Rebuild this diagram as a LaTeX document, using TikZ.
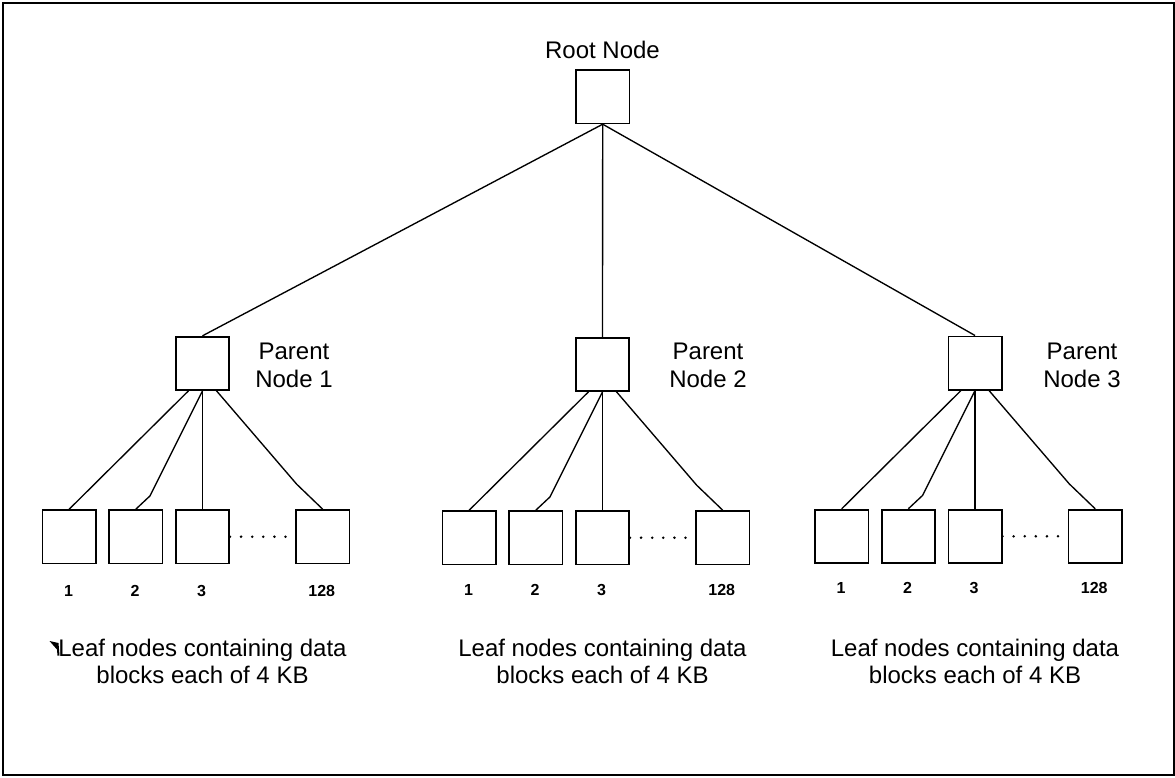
\documentclass[tikz,border=0pt]{standalone}
\usepackage{fontspec}
\setmainfont{Liberation Sans}
\usetikzlibrary{calc}
\begin{document}
\begin{tikzpicture}[x=1pt,y=-1pt,
  box/.style={draw,line width=1.7pt,minimum size=53.3pt,inner sep=0pt,fill=white},
  edge/.style={line width=1.35pt},
  lbl/.style={font=\fontsize{24}{27.5}\selectfont,align=center,inner sep=0pt},
  num/.style={font=\fontsize{16}{18}\selectfont\bfseries,inner sep=0pt,anchor=base},
  dotline/.style={line width=2.8pt,dash pattern=on 0pt off 11.1pt,line cap=round}]
\useasboundingbox (0,0) rectangle (1175,777);
\draw[line width=2pt] (2.5,2.5) rectangle (1173.5,774.5);
\node[box] (root) at (602.7,96.7) {};
\node[lbl,anchor=base] (rootlbl) at (602.5,58) {Root Node};
\foreach \i/\px/\py/\ly/\nb/\lx in {1/202.5/363.3/536.7/596/294, 2/602.5/364.3/537.7/595/708, 3/975/363/536.3/593.5/1082}{
  \node[box] (p\i) at (\px,\py) {};
  \node[lbl] (pl\i) at (\lx,365.6) {Parent\\Node \i};
  \node[box] (l\i a) at (\px-133.3,\ly) {};
  \node[box] (l\i b) at (\px-66.7,\ly) {};
  \node[box] (l\i c) at (\px,\ly) {};
  \node[box] (l\i d) at (\px+120.2,\ly) {};
  \node[num] (n\i a) at (\px-134,\nb) {1};
  \node[num] (n\i b) at (\px-67.5,\nb) {2};
  \node[num] (n\i c) at (\px-1,\nb) {3};
  \node[num] (n\i d) at (\px+119.2,\nb) {128};
  \node[lbl] (leaf\i) at (\px,661.4) {Leaf nodes containing data\\blocks each of 4 KB};
  \draw[edge] (root.south) -- (p\i.north);
  \draw[edge] ($(p\i.south)+(-14,0)$) -- (l\i a.north);
  \draw[edge] (p\i.south) -- ($(l\i b.north)+(14.2,-13.3)$) -- (l\i b.north);
  \draw[edge] (p\i.south) -- (l\i c.north);
  \draw[edge] ($(p\i.south)+(14,0)$) -- ($(l\i d.north)+(-26,-25)$) -- (l\i d.north);
  \draw[dotline] (l\i c.east) -- (l\i d.west);
}
\fill (49.5,641) -- (58.5,643) -- (59.5,655.5) -- (57.5,655.5) -- (57,649.5) -- cycle;
\end{tikzpicture}
\end{document}
